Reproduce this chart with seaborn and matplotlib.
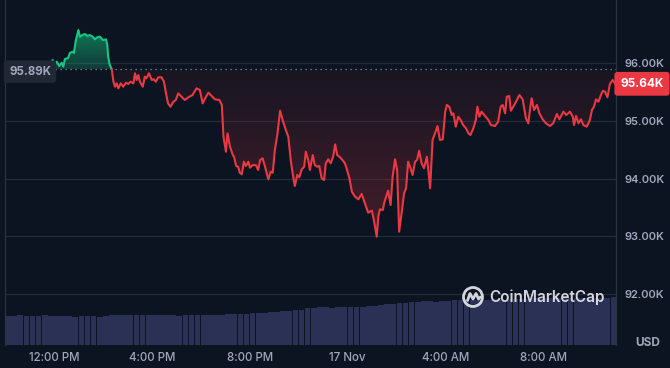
import numpy as np
import pandas as pd
import matplotlib
matplotlib.use("Agg")
import matplotlib.pyplot as plt
import matplotlib.colors as mcolors
import matplotlib.transforms as mtransforms
from matplotlib.patches import Rectangle, PathPatch, Circle
from matplotlib.path import Path
import seaborn as sns

# ---------------- data ----------------
# minutes since 16 Nov 10:00 AM
minutes = [0, 17, 37, 56, 76, 95, 110, 117, 122, 127, 133, 139, 143, 147, 155, 159, 166, 169, 174, 180,
           184, 190, 196, 202, 208, 215, 221, 226, 233, 240, 248, 251, 253, 257, 262, 266, 270, 274, 278, 284,
           290, 297, 302, 308, 315, 319, 323, 327, 331, 338, 343, 347, 353, 360, 365, 370, 376, 384, 390, 395,
           400, 406, 413, 419, 425, 433, 441, 450, 460, 470, 478, 485, 491, 499, 507, 515, 526, 532, 536, 542,
           546, 552, 559, 562, 567, 572, 576, 581, 586, 591, 597, 601, 608, 616, 621, 626, 632, 638, 646, 652,
           657, 662, 668, 675, 681, 689, 695, 701, 707, 711, 717, 722, 728, 734, 738, 744, 748, 755, 760, 766,
           771, 777, 783, 787, 793, 799, 805, 810, 815, 822, 828, 834, 838, 845, 851, 859, 867, 875, 883, 891,
           900, 905, 912, 916, 920, 927, 930, 935, 940, 946, 951, 957, 962, 967, 973, 979, 984, 989, 995, 1000,
           1006, 1011, 1016, 1022, 1028, 1035, 1039, 1043, 1049, 1055, 1061, 1067, 1074, 1080, 1084, 1090, 1096, 1100, 1106, 1112,
           1118, 1124, 1131, 1137, 1142, 1149, 1155, 1159, 1164, 1169, 1178, 1186, 1192, 1202, 1210, 1216, 1221, 1227, 1231, 1237,
           1241, 1247, 1256, 1262, 1270, 1278, 1284, 1288, 1292, 1298, 1305, 1311, 1319, 1327, 1337, 1345, 1354, 1360, 1370, 1377,
           1386, 1393, 1396, 1401, 1407, 1413, 1419, 1427, 1435, 1440, 1445, 1450, 1456, 1462, 1467, 1472, 1478, 1484, 1491, 1497]
prices = [95775, 95844, 95810, 95913, 95879, 95983, 95948, 96052, 95965, 96023, 95948, 96005, 95936, 96069, 96087, 96173, 96196, 96173, 96398, 96571,
          96455, 96485, 96502, 96468, 96485, 96455, 96410, 96445, 96455, 96398, 96410, 96312, 96109, 95965, 95891, 95676, 95590, 95648, 95562, 95648,
          95590, 95659, 95636, 95676, 95648, 95822, 95706, 95792, 95676, 95590, 95763, 95735, 95822, 95706, 95718, 95676, 95752, 95752, 95676, 95475,
          95302, 95243, 95330, 95359, 95475, 95416, 95359, 95406, 95446, 95562, 95532, 95302, 95389, 95486, 95429, 95371, 95359, 95273, 94724, 94464,
          94783, 94551, 94407, 94377, 94216, 94204, 94100, 94073, 94291, 94216, 94291, 94187, 94234, 94229, 94147, 94320, 94350, 94204, 93986, 94118,
          94100, 94494, 94753, 95174, 95013, 94840, 94724, 94320, 94031, 93870, 94061, 94021, 94159, 94204, 94464, 94320, 94147, 94407, 94234, 94204,
          94216, 94003, 93974, 94263, 94332, 94263, 94377, 94592, 94407, 94367, 94320, 94263, 94177, 94003, 93771, 93685, 93640, 93732, 93571, 93408,
          93443, 93281, 92992, 93351, 93467, 93455, 93571, 93685, 93789, 93541, 94031, 94332, 94147, 93079, 93397, 93744, 93830, 94291, 94177, 94061,
          94291, 94320, 94481, 94263, 94177, 94377, 94118, 93830, 94667, 94783, 94909, 94667, 94679, 95157, 95273, 95243, 95100, 95129, 94897, 95070,
          95013, 94926, 94869, 94783, 94753, 94869, 95013, 95243, 95070, 95157, 95082, 95013, 94926, 94909, 94984, 95243, 95273, 95129, 95416, 95429,
          95174, 95243, 95359, 95446, 95371, 95042, 94956, 95198, 95389, 95186, 95273, 95129, 95025, 94956, 94909, 94956, 95117, 95025, 95157, 95100,
          95157, 95070, 94926, 95082, 94956, 95025, 94926, 94897, 95013, 95186, 95243, 95371, 95330, 95446, 95520, 95503, 95406, 95636, 95706, 95640]
ref_price = 95890
last_price = 95640

# 24h rolling volume bars (one per 15 minutes), billions USD
vol_minutes = [15 * i + 7.5 for i in range(100)]
volumes = [59, 59, 60, 59, 59, 59, 60, 59, 59,
           58, 58, 57, 58, 58, 58, 57, 58,
           61, 61, 61, 60, 61, 61, 61, 61, 60, 61, 61,
           59,
           61, 61, 61, 61, 60, 61, 61, 62,
           63, 63, 63,
           64, 65, 65, 66, 66,
           68, 70, 71, 72,
           75, 76, 77, 77, 76, 77, 78,
           78, 77, 78, 79, 80,
           82, 83, 84, 85, 85,
           87, 88, 89, 89, 88, 89, 90,
           91, 91, 92, 92, 92, 91, 92, 93, 92, 93, 93, 94,
           94, 95, 95, 95, 95, 96, 95, 95, 95, 96, 95, 95, 96, 95, 97]

x_tick_minutes = [120, 360, 600, 840, 1080, 1320]
x_tick_labels = ["12:00 PM", "4:00 PM", "8:00 PM", "17 Nov", "4:00 AM", "8:00 AM"]
y_ticks = [92000, 93000, 94000, 95000, 96000]
y_tick_labels = ["92.00K", "93.00K", "94.00K", "95.00K", "96.00K"]

# ---------------- style ----------------
BG = "#0d1421"
RED = "#ea3943"
GREEN = "#16c784"
GRID = "#232a3a"
TXT = "#a1a7bb"
VOL = "#2b3154"

sns.set_style("dark")
plt.rcParams["font.family"] = ["Inter", "DejaVu Sans"]

W, H = 670, 368
fig = plt.figure(figsize=(W / 100, H / 100), dpi=100, facecolor=BG)
pos = [5 / W, 23 / H, 611 / W, 345 / H]
XMIN, XMAX = 0, 1499
YMIN, YMAX = 91117, 97091

# volume axes (behind)
ax_vol = fig.add_axes(pos)
ax_vol.set_facecolor(BG)
sns.barplot(x=vol_minutes, y=volumes, native_scale=True, color=VOL, saturation=1,
            errorbar=None, width=0.93, linewidth=0, edgecolor="none", ax=ax_vol)
ax_vol.set_xlim(XMIN, XMAX)
ax_vol.set_ylim(0, 700)
ax_vol.axis("off")

# price axes
ax = fig.add_axes(pos)
ax.patch.set_visible(False)
df = pd.DataFrame({"minute": minutes, "price": prices})

x = np.array(minutes, float)
y = np.array(prices, float)

below = ax.fill_between(x, y, ref_price, where=y <= ref_price, interpolate=True,
                        facecolor="none", edgecolor="none", linewidth=0)
above = ax.fill_between(x, y, ref_price, where=y >= ref_price, interpolate=True,
                        facecolor="none", edgecolor="none", linewidth=0)


def grad_fill(coll, color, a_bottom, a_top, y0, y1):
    paths = coll.get_paths()
    if not paths:
        return
    cp = Path.make_compound_path(*paths)
    patch = PathPatch(cp, transform=ax.transData, facecolor="none", edgecolor="none")
    ax.add_patch(patch)
    n = 256
    rgba = np.zeros((n, 1, 4))
    rgba[..., :3] = mcolors.to_rgb(color)
    rgba[:, 0, 3] = np.linspace(a_bottom, a_top, n)
    im = ax.imshow(rgba, extent=[XMIN, XMAX, y0, y1], origin="lower", aspect="auto",
                   zorder=1, interpolation="bilinear")
    im.set_clip_path(patch)


grad_fill(below, RED, 0.26, 0.05, 92900, ref_price)
grad_fill(above, GREEN, 0.22, 0.58, ref_price, 96600)

sns.lineplot(data=df, x="minute", y="price", color=GREEN, linewidth=1.5,
             estimator=None, sort=False, ax=ax, zorder=3)
line_g = ax.lines[-1]
sns.lineplot(data=df, x="minute", y="price", color=RED, linewidth=1.5,
             estimator=None, sort=False, ax=ax, zorder=3)
line_r = ax.lines[-1]
clip_up = Rectangle((XMIN - 100, ref_price), XMAX + 200, 10000, transform=ax.transData)
clip_dn = Rectangle((XMIN - 100, ref_price - 10000), XMAX + 200, 10000, transform=ax.transData)
line_g.set_clip_path(clip_up)
line_r.set_clip_path(clip_dn)

ax.axhline(ref_price, color="#8a90a2", linestyle=(0, (1, 3)), linewidth=0.9, zorder=2.5)

ax.set_xlim(XMIN, XMAX)
ax.set_ylim(YMIN, YMAX)
ax.set_xlabel("")
ax.set_ylabel("")

ax.set_yticks(y_ticks, y_tick_labels)
ax.yaxis.tick_right()
ax.set_xticks(x_tick_minutes, x_tick_labels)
ax.grid(axis="y", color=GRID, linewidth=0.9)
ax.grid(axis="x", visible=False)
ax.set_axisbelow(True)
ax.tick_params(axis="y", length=0, pad=6, labelsize=8, labelcolor=TXT)
ax.tick_params(axis="x", length=0, pad=5, labelsize=8.3, labelcolor=TXT)
for lbl in ax.get_yticklabels():
    lbl.set_fontweight("semibold")
for lbl in ax.get_xticklabels():
    lbl.set_fontweight("medium")

for side in ["top", "bottom"]:
    ax.spines[side].set_visible(False)
for side in ["left", "right"]:
    ax.spines[side].set_visible(True)
    ax.spines[side].set_color("#2a3142")
    ax.spines[side].set_linewidth(0.9)

# last price tag
trans = mtransforms.blended_transform_factory(ax.transAxes, ax.transData)
ax.text((642 - 5) / 611, last_price, "95.64K", transform=trans, ha="center", va="center",
        color="white", fontsize=8.5, fontweight="bold", clip_on=False, zorder=6,
        bbox=dict(boxstyle="round,pad=0.5,rounding_size=0.25", fc=RED, ec="none"))

# reference price tag
ax.text((30 - 5) / 611, ref_price - 40, "95.89K", transform=trans, ha="center", va="center",
        color=TXT, fontsize=8.3, fontweight="bold", zorder=6,
        bbox=dict(boxstyle="round,pad=0.45,rounding_size=0.3", fc="#222735", ec="none"))

# USD
fig.text(648 / W, 1 - 343 / H, "USD", ha="center", va="center", color=TXT,
         fontsize=8.5, fontweight="bold")

# watermark
fig.text(489 / W, 1 - 297 / H, "CoinMarketCap", ha="left", va="center", color="#e4e6ec",
         fontsize=11, fontweight="semibold", alpha=0.92)
ax_logo = fig.add_axes([461 / W, (H - 309) / H, 24 / W, 24 / H])
ax_logo.set_xlim(-1.2, 1.2)
ax_logo.set_ylim(-1.2, 1.2)
ax_logo.set_aspect("equal")
ax_logo.axis("off")
ax_logo.add_patch(Circle((0, 0), 0.95, fill=False, ec="#e4e6ec", lw=2.0, alpha=0.92))
ax_logo.plot([-0.55, -0.3, 0.0, 0.3, 0.55, 0.75], [-0.35, 0.35, -0.2, 0.35, -0.2, 0.0],
             color="#e4e6ec", lw=2.0, alpha=0.92, solid_capstyle="round", solid_joinstyle="round")

fig.savefig("out.png", dpi=100, facecolor=BG)
